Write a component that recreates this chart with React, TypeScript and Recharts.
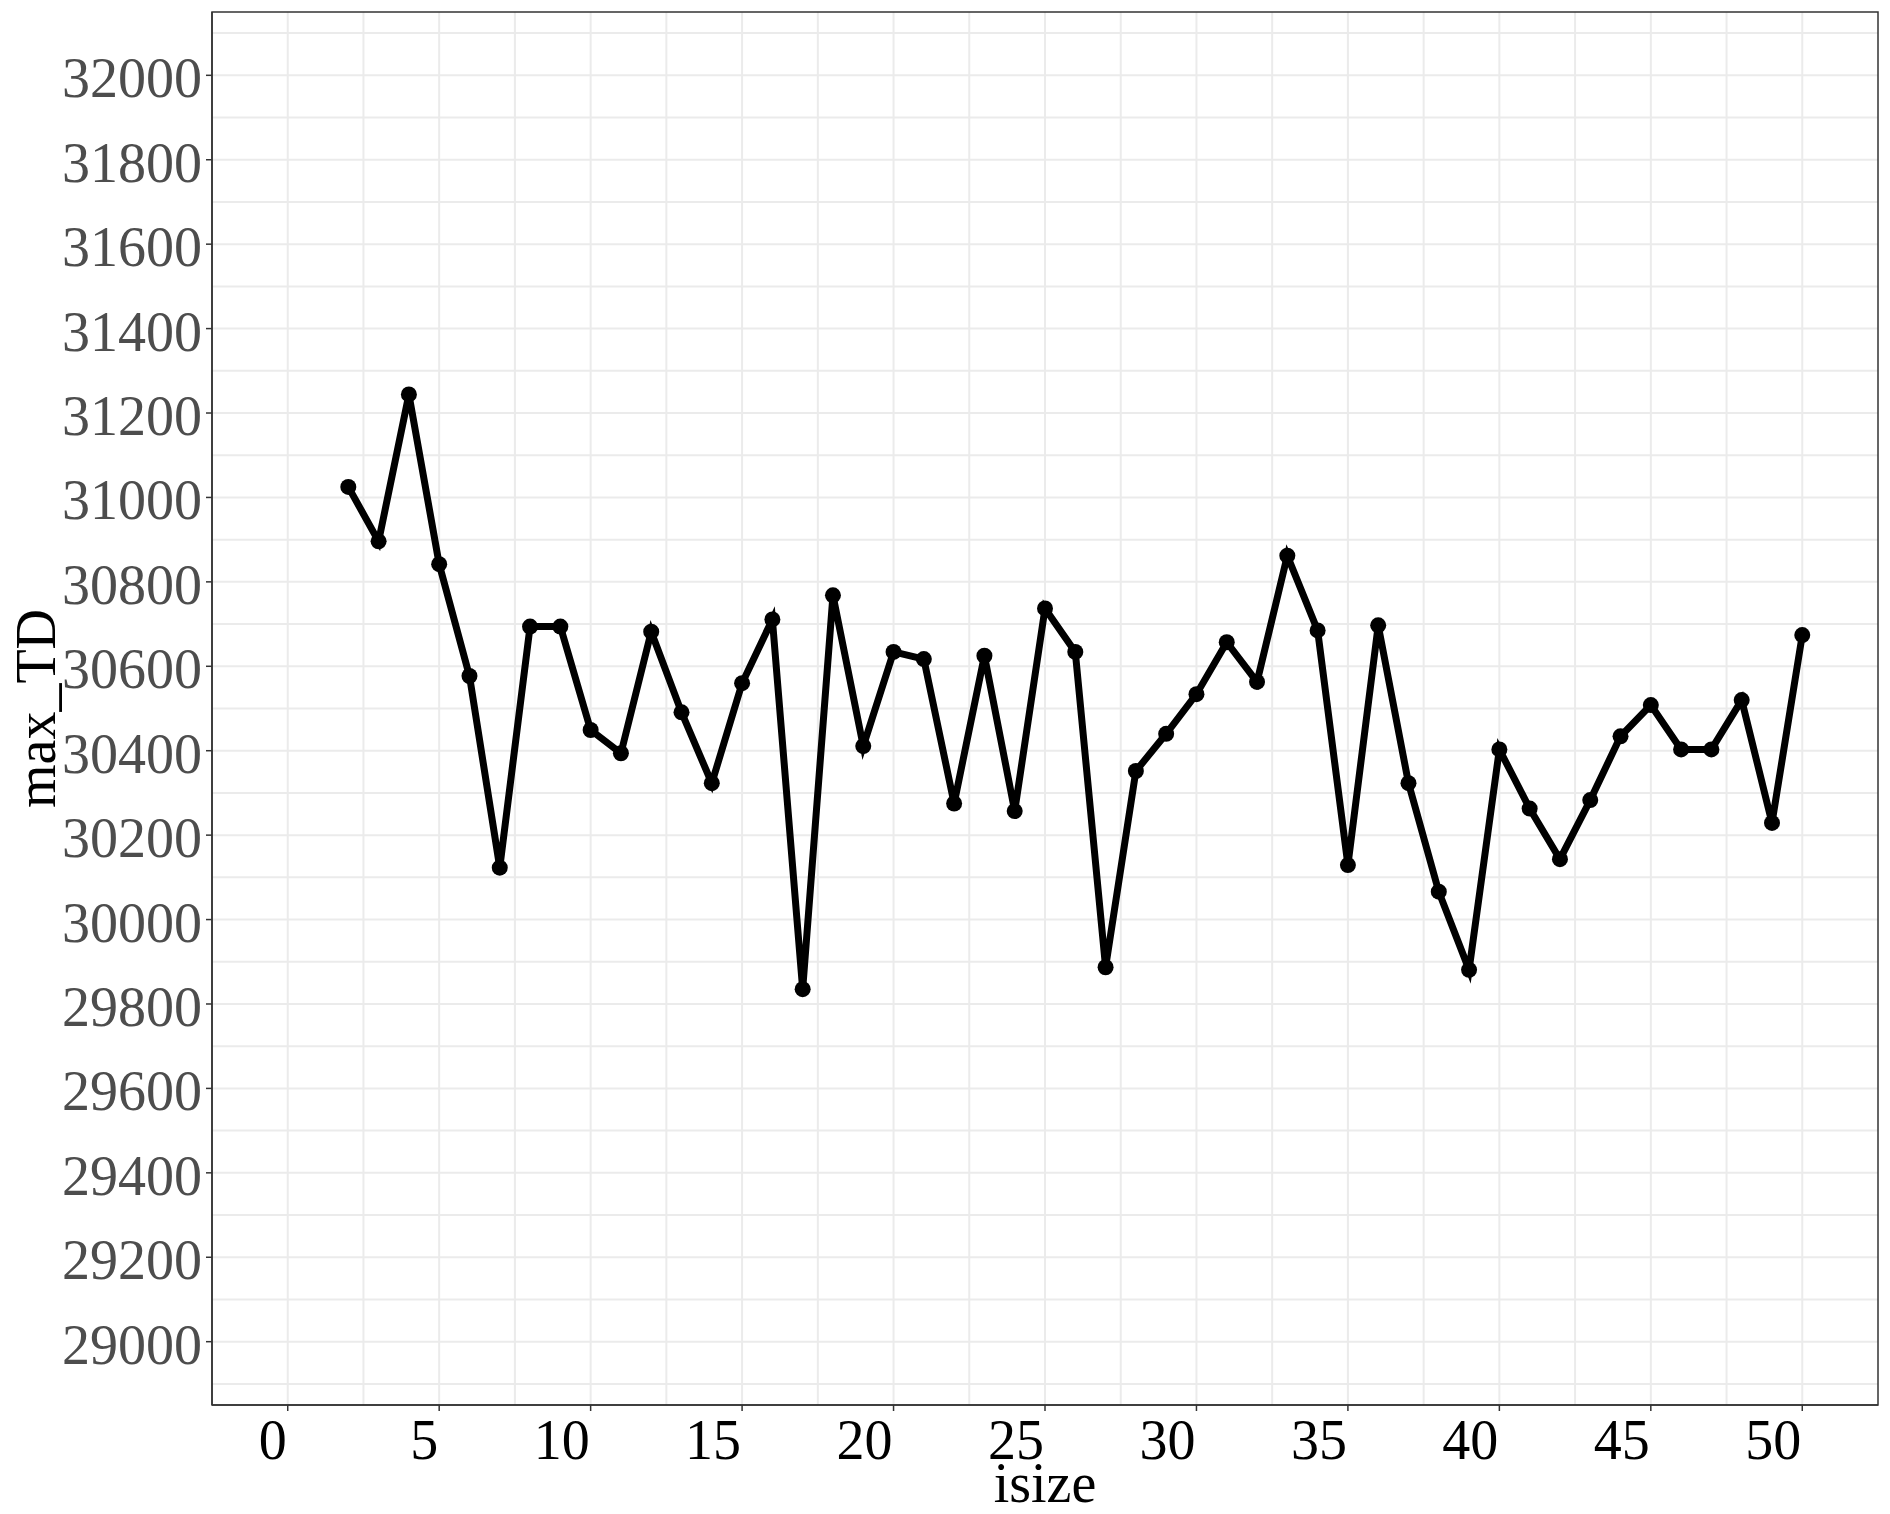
import { LineChart, Line, XAxis, YAxis, CartesianGrid, ReferenceArea, Label } from 'recharts';

// ── Data ──────────────────────────────────────────────────────────────────────
const isize = [
  2, 3, 4, 5, 6, 7, 8, 9, 10, 11, 12, 13, 14, 15, 16, 17, 18, 19, 20, 21, 22, 23, 24, 25, 26,
  27, 28, 29, 30, 31, 32, 33, 34, 35, 36, 37, 38, 39, 40, 41, 42, 43, 44, 45, 46, 47, 48, 49, 50,
];
const maxTD = [
  31025, 30896, 31244, 30842, 30577, 30123, 30694, 30694, 30449, 30394, 30682, 30491, 30323,
  30560, 30711, 29835, 30768, 30411, 30634, 30617, 30275, 30625, 30257, 30737, 30634, 29887,
  30352, 30440, 30534, 30657, 30563, 30862, 30685, 30129, 30697, 30323, 30066, 29881, 30403,
  30263, 30143, 30283, 30434, 30508, 30403, 30403, 30520, 30229, 30674,
];

const xTicks = [0, 5, 10, 15, 20, 25, 30, 35, 40, 45, 50];
const yTicks = [29000, 29200, 29400, 29600, 29800, 30000, 30200, 30400, 30600, 30800, 31000, 31200, 31400, 31600, 31800, 32000];
const xGrid = [0, 2.5, 5, 7.5, 10, 12.5, 15, 17.5, 20, 22.5, 25, 27.5, 30, 32.5, 35, 37.5, 40, 42.5, 45, 47.5, 50];
const yGrid = [
  28900, 29000, 29100, 29200, 29300, 29400, 29500, 29600, 29700, 29800, 29900, 30000, 30100,
  30200, 30300, 30400, 30500, 30600, 30700, 30800, 30900, 31000, 31100, 31200, 31300, 31400,
  31500, 31600, 31700, 31800, 31900, 32000, 32100,
];
const xDomain = [-2.5, 52.5];
const yDomain = [28850, 32150];

const data = isize.map((x, i) => ({ isize: x, max_TD: maxTD[i] }));

// ── Style ─────────────────────────────────────────────────────────────────────
const FONT = '"Liberation Serif", "Times New Roman", Times, serif';
const FS = 56;

// x labels sit right-aligned on their tick, like the original
function XTick({ x, y, payload }: any) {
  return (
    <text x={x - 1} y={y + 46} textAnchor="end" fontSize={FS} fontFamily={FONT} fill="#000">
      {payload.value}
    </text>
  );
}

function YTick({ x, y, payload }: any) {
  return (
    <text x={x - 2} y={y} dy={22} textAnchor="end" fontSize={FS} fontFamily={FONT} fill="#4D4D4D">
      {payload.value}
    </text>
  );
}

export default function App() {
  return (
    <div style={{ position: 'absolute', left: 0, top: 0, background: '#fff' }}>
      <LineChart
        width={1890}
        height={1514}
        data={data}
        margin={{ top: 12, right: 12, bottom: 0, left: 0 }}
      >
        <CartesianGrid
          stroke="#EBEBEB"
          strokeWidth={2}
          verticalValues={xGrid}
          horizontalValues={yGrid}
        />
        <XAxis
          dataKey="isize"
          type="number"
          domain={xDomain}
          ticks={xTicks}
          allowDataOverflow
          height={109}
          tickSize={6}
          tick={<XTick />}
          axisLine={{ stroke: '#333333', strokeWidth: 1.5 }}
          tickLine={{ stroke: '#333333', strokeWidth: 1.5 }}
        >
          <Label
            content={({ viewBox }: any) => (
              <text
                x={viewBox.x + viewBox.width / 2}
                y={viewBox.y + 97}
                textAnchor="middle"
                fontSize={FS}
                fontFamily={FONT}
                fill="#000"
              >
                isize
              </text>
            )}
          />
        </XAxis>
        <YAxis
          type="number"
          domain={yDomain}
          ticks={yTicks}
          allowDataOverflow
          width={212}
          tickSize={6}
          tick={<YTick />}
          axisLine={{ stroke: '#333333', strokeWidth: 1.5 }}
          tickLine={{ stroke: '#333333', strokeWidth: 1.5 }}
        >
          <Label
            content={({ viewBox }: any) => {
              const cx = 55;
              const cy = viewBox.y + viewBox.height / 2;
              return (
                <text
                  x={cx}
                  y={cy}
                  transform={`rotate(-90, ${cx}, ${cy})`}
                  textAnchor="middle"
                  fontSize={FS}
                  fontFamily={FONT}
                  fill="#000"
                >
                  max_TD
                </text>
              );
            }}
          />
        </YAxis>
        <ReferenceArea
          x1={xDomain[0]}
          x2={xDomain[1]}
          y1={yDomain[0]}
          y2={yDomain[1]}
          fill="none"
          stroke="#333333"
          strokeWidth={1.5}
          fillOpacity={0}
        />
        <Line
          dataKey="max_TD"
          stroke="#000"
          strokeWidth={7}
          dot={{ r: 8, fill: '#000', stroke: 'none' }}
          activeDot={false}
          isAnimationActive={false}
        />
      </LineChart>
    </div>
  );
}
